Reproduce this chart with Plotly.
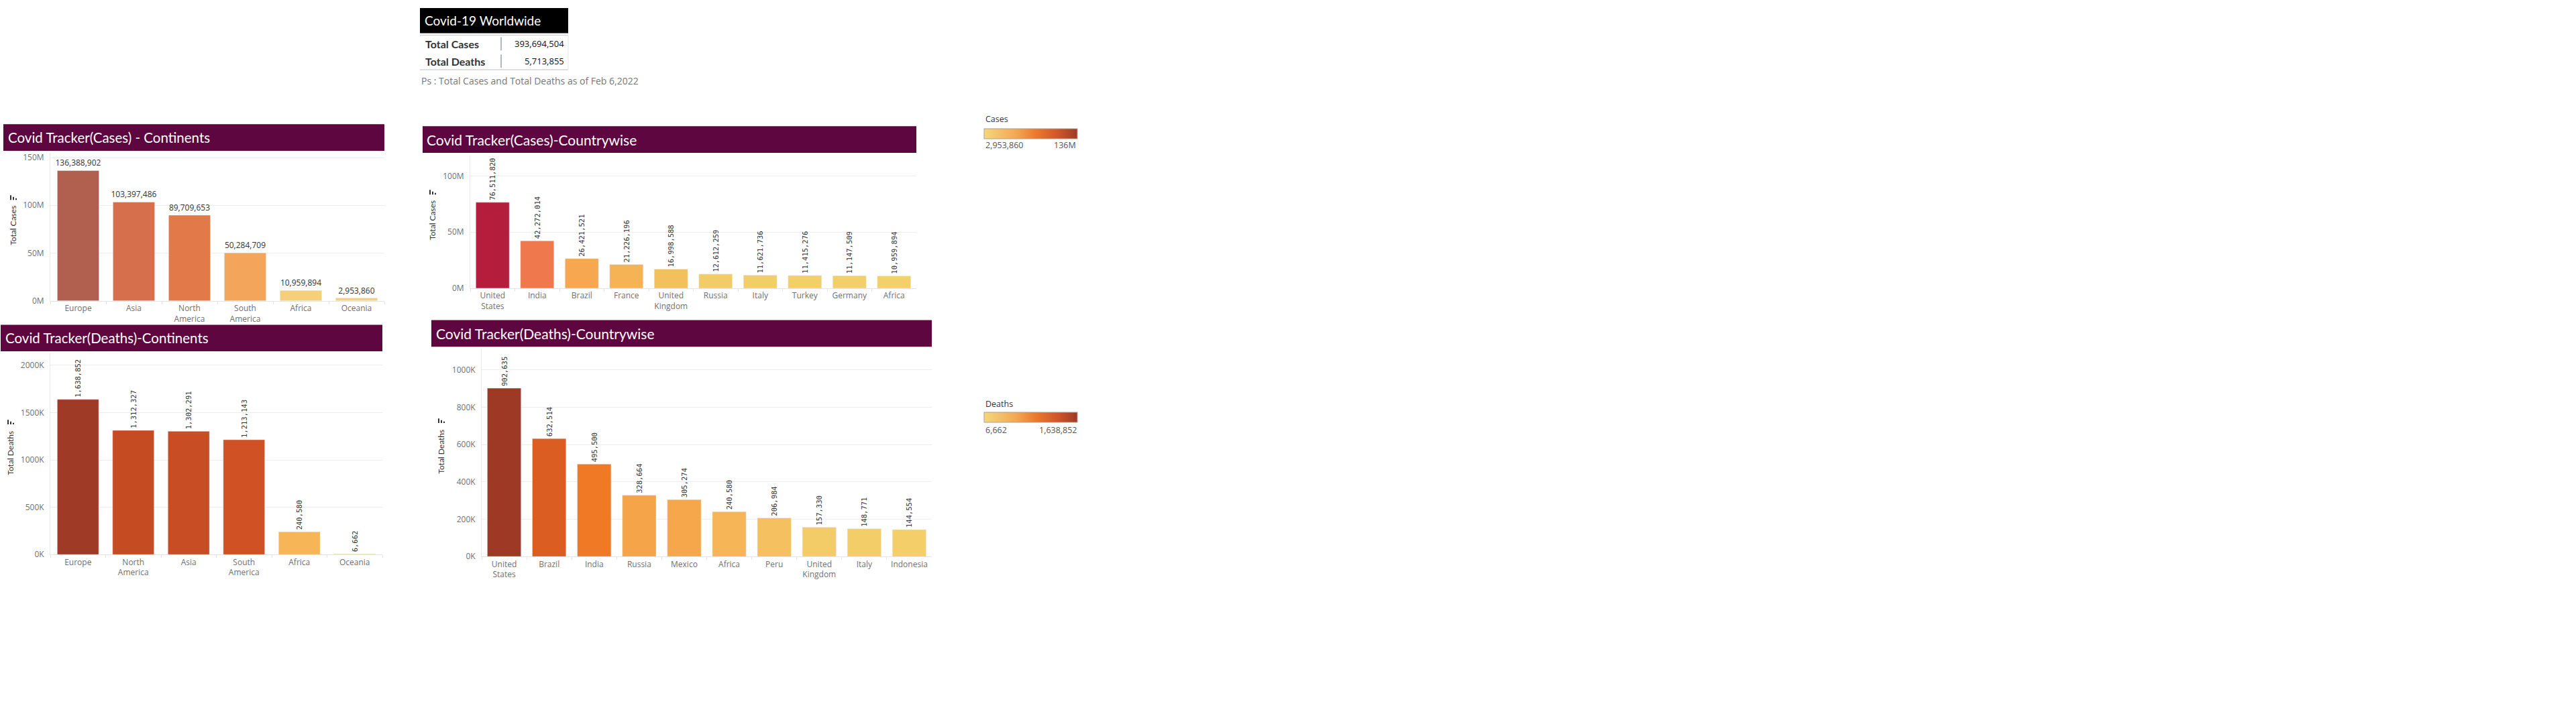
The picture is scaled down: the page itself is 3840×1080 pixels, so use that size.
import plotly.graph_objects as go

W, H = 3840, 1080

# ---------------- data ----------------
total_cases = 393694504
total_deaths = 5713855
note_text = "Ps : Total Cases and Total Deaths as of Feb 6,2022"

cont_cases_names = ["Europe", "Asia", "North America", "South America", "Africa", "Oceania"]
cont_cases_vals = [136388902, 103397486, 89709653, 50284709, 10959894, 2953860]

country_cases_names = ["United States", "India", "Brazil", "France", "United Kingdom",
                       "Russia", "Italy", "Turkey", "Germany", "Africa"]
country_cases_vals = [76511820, 42272014, 26421521, 21226196, 16998588,
                      12612259, 11621736, 11415276, 11147509, 10959894]

cont_deaths_names = ["Europe", "North America", "Asia", "South America", "Africa", "Oceania"]
cont_deaths_vals = [1638852, 1312327, 1302291, 1213143, 240580, 6662]

country_deaths_names = ["United States", "Brazil", "India", "Russia", "Mexico",
                        "Africa", "Peru", "United Kingdom", "Italy", "Indonesia"]
country_deaths_vals = [902635, 632514, 495500, 328664, 305274,
                       240580, 206984, 157330, 148771, 144554]

cases_ticks = [0, 50e6, 100e6, 150e6]
cases_ticklabels = ["0M", "50M", "100M", "150M"]
country_cases_ticks = [0, 50e6, 100e6]
country_cases_ticklabels = ["0M", "50M", "100M"]
deaths_ticks = [0, 500e3, 1000e3, 1500e3, 2000e3]
deaths_ticklabels = ["0K", "500K", "1000K", "1500K", "2000K"]
country_deaths_ticks = [0, 200e3, 400e3, 600e3, 800e3, 1000e3]
country_deaths_ticklabels = ["0K", "200K", "400K", "600K", "800K", "1000K"]

legend_cases_labels = ["2,953,860", "136M"]
legend_deaths_labels = ["6,662", "1,638,852"]

# ---------------- styles ----------------
c_cont_cases = ["#b1604f", "#d6704c", "#e17a48", "#f4a55c", "#f6cf7b", "#f5d17c"]
c_country_cases = ["#b41e3c", "#ef794c", "#f6a74f", "#f5b356", "#f4bf5d",
                   "#f2cc66", "#f2ce67", "#f3cf68", "#f3cf69", "#f3d06a"]
c_cont_deaths = ["#9f3a26", "#c54b23", "#c84c24", "#cf5124", "#f6b658", "#f5ce6c"]
c_country_deaths = ["#9e3926", "#db5d22", "#ef7925", "#f5a44a", "#f6a74b",
                    "#f6b658", "#f5c05f", "#f3cc67", "#f3cd68", "#f3ce69"]
legend_scale = [[0, "#f4d77c"], [0.35, "#f3a652"], [0.55, "#ec7a2b"],
                [0.8, "#cf5429"], [1, "#9e3a27"]]

HEAD = "#5e0640"
BASE = "Lato"
TICK = "Open Sans"
MONO = "DejaVu Sans Mono"


def px(x):
    return x / W


def py(y):
    return 1 - y / H


def br(names):
    return [n.replace(" ", "<br>") for n in names]


fig = go.Figure()

# ---------------- bars ----------------
fig.add_trace(go.Bar(
    x=cont_cases_names, y=cont_cases_vals, marker_color=c_cont_cases,
    texttemplate="%{y:,.0f}", textposition="outside", textangle=0,
    constraintext="none", cliponaxis=False,
    textfont=dict(family=TICK, size=12, color="#333333"),
    xaxis="x", yaxis="y", hoverinfo="x+y"))

fig.add_trace(go.Bar(
    x=country_cases_names, y=country_cases_vals, marker_color=c_country_cases,
    texttemplate="%{y:,.0f}", textposition="outside", textangle=-90,
    constraintext="none", cliponaxis=False,
    textfont=dict(family=MONO, size=10.5, color="#333333"),
    xaxis="x2", yaxis="y2", hoverinfo="x+y"))

fig.add_trace(go.Bar(
    x=cont_deaths_names, y=cont_deaths_vals, marker_color=c_cont_deaths,
    texttemplate="%{y:,.0f}", textposition="outside", textangle=-90,
    constraintext="none", cliponaxis=False,
    textfont=dict(family=MONO, size=10.5, color="#333333"),
    xaxis="x3", yaxis="y3", hoverinfo="x+y"))

fig.add_trace(go.Bar(
    x=country_deaths_names, y=country_deaths_vals, marker_color=c_country_deaths,
    texttemplate="%{y:,.0f}", textposition="outside", textangle=-90,
    constraintext="none", cliponaxis=False,
    textfont=dict(family=MONO, size=10.5, color="#333333"),
    xaxis="x4", yaxis="y4", hoverinfo="x+y"))


# ---------------- colour legends (dummy traces carrying colorbars) ----------------
def legend_trace(vmin, vmax, ybar, xaxis, yaxis, xcat):
    return go.Scatter(
        x=[xcat], y=[0], mode="markers", xaxis=xaxis, yaxis=yaxis,
        hoverinfo="skip", showlegend=False,
        marker=dict(color=[vmin], cmin=vmin, cmax=vmax, colorscale=legend_scale,
                    opacity=0, size=1, showscale=True,
                    colorbar=dict(orientation="h", x=px(1467), xanchor="left",
                                  y=py(ybar), yanchor="top", lenmode="pixels",
                                  len=139, thicknessmode="pixels", thickness=15,
                                  outlinewidth=1, outlinecolor="#aaa296",
                                  showticklabels=False, ticks="", xpad=0, ypad=0)))


fig.add_trace(legend_trace(min(cont_cases_vals), max(cont_cases_vals), 192, "x", "y",
                           cont_cases_names[0]))
fig.add_trace(legend_trace(min(cont_deaths_vals), max(cont_deaths_vals), 619, "x3", "y3",
                           cont_deaths_names[0]))

# ---------------- axes ----------------
grid = "#ededed"
tickfont = dict(family=TICK, size=12, color="#707070")


def xax(x0, x1, anchor, names):
    return dict(domain=[px(x0), px(x1)], anchor=anchor, type="category",
                tickmode="array", tickvals=names, ticktext=br(names), tickangle=0,
                tickfont=tickfont, showline=True, linecolor="#e4e4e4", linewidth=1,
                ticks="outside", tickson="boundaries", ticklen=4, tickcolor="#e4e4e4",
                showgrid=False, fixedrange=True)


def yax(y0, y1, anchor, rmax, tv, tt):
    return dict(domain=[py(y1), py(y0)], anchor=anchor, range=[0, rmax],
                tickmode="array", tickvals=tv, ticktext=tt, tickfont=tickfont,
                showgrid=True, gridcolor=grid, gridwidth=1, zeroline=False,
                showline=True, linecolor="#e9e9e9", ticks="", ticklabelstandoff=6,
                fixedrange=True)


fig.update_layout(
    xaxis=xax(75, 573, "y", cont_cases_names),
    yaxis=yax(228, 451, "x", 155e6, cases_ticks, cases_ticklabels),
    xaxis2=xax(701, 1366, "y2", country_cases_names),
    yaxis2=yax(232, 432, "x2", 118.3e6, country_cases_ticks, country_cases_ticklabels),
    xaxis3=xax(75, 570, "y3", cont_deaths_names),
    yaxis3=yax(530, 833, "x3", 2125e3, deaths_ticks, deaths_ticklabels),
    xaxis4=xax(718, 1389, "y4", country_deaths_names),
    yaxis4=yax(523, 836, "x4", 1114e3, country_deaths_ticks, country_deaths_ticklabels),
)

# ---------------- shapes & annotations ----------------
shapes = []
ann = []


def rect(x0, y0, x1, y1, color):
    shapes.append(dict(type="rect", xref="paper", yref="paper", x0=px(x0), x1=px(x1),
                       y0=py(y1), y1=py(y0), fillcolor=color, layer="above",
                       line=dict(width=0)))


def line(x0, y0, x1, y1, color, width=1):
    shapes.append(dict(type="line", xref="paper", yref="paper", x0=px(x0), x1=px(x1),
                       y0=py(y0), y1=py(y1), line=dict(color=color, width=width),
                       layer="above"))


def text(x, y, s, size, color, family=BASE, xanchor="left", yanchor="middle",
         angle=0, bold=False):
    ann.append(dict(x=px(x), y=py(y), xref="paper", yref="paper",
                    text=("<b>%s</b>" % s) if bold else s,
                    showarrow=False, xanchor=xanchor, yanchor=yanchor, textangle=angle,
                    font=dict(family=family, size=size, color=color)))


def sort_icon(xc, ybottom):
    # small bar-chart sort glyph above a y-axis title
    for dx, h in ((-4, 7), (0, 4.5), (4, 2.5)):
        rect(xc + dx - 1, ybottom - h, xc + dx + 1, ybottom, "#333333")


# headers
rect(5, 185, 573, 225, HEAD)
text(10, 205, "Covid Tracker(Cases) - Continents", 20.5, "white")
rect(630, 188, 1366, 228, HEAD)
text(634, 208, "Covid Tracker(Cases)-Countrywise", 21, "white")
rect(1, 487, 570, 527, HEAD)
text(6, 507, "Covid Tracker(Deaths)-Continents", 20.5, "white")
rect(643, 480, 1389, 520, HEAD)
text(648, 500, "Covid Tracker(Deaths)-Countrywise", 21, "white")

# axis titles + sort icons
text(20, 338, "Total Cases", 12, "#333333", angle=-90, xanchor="center")
sort_icon(20, 299)
text(645, 330, "Total Cases", 12, "#333333", angle=-90, xanchor="center")
sort_icon(645, 291)
text(16, 680, "Total Deaths", 12, "#333333", angle=-90, xanchor="center")
sort_icon(16, 637)
text(658, 678, "Total Deaths", 12, "#333333", angle=-90, xanchor="center")
sort_icon(658, 635)

# summary table
rect(626, 10, 847, 48, "#000000")
text(631, 29, "Covid-19 Worldwide", 19, "white")
line(626, 51, 847, 51, "#d4d4d4", 1.5)
line(626, 103, 847, 103, "#d4d4d4", 1.5)
line(847, 51, 847, 103, "#e6e6e6", 1)
line(747, 54, 747, 74, "#5b7091", 1)
line(747, 80, 747, 100, "#5b7091", 1)
text(632, 64, "Total Cases", 16, "#333333", bold=True)
text(632, 90, "Total Deaths", 16, "#333333", bold=True)
text(843, 64, "{:,}".format(total_cases), 13, "#111111", family=TICK, xanchor="right")
text(843, 90, "{:,}".format(total_deaths), 13, "#111111", family=TICK, xanchor="right")
text(626, 120, note_text, 14, "#777777", family=TICK)

# colour legend texts
text(1467, 177, "Cases", 12.5, "#333333", family=TICK)
text(1467, 217, legend_cases_labels[0], 12.5, "#555555", family=TICK)
text(1606, 217, legend_cases_labels[1], 12.5, "#555555", family=TICK, xanchor="right")
text(1467, 606, "Deaths", 12.5, "#333333", family=TICK)
text(1467, 645, legend_deaths_labels[0], 12.5, "#555555", family=TICK)
text(1608, 645, legend_deaths_labels[1], 12.5, "#555555", family=TICK, xanchor="right")

fig.update_layout(
    width=W, height=H, margin=dict(l=0, r=0, t=0, b=0),
    paper_bgcolor="white", plot_bgcolor="white", showlegend=False,
    bargap=0.25, shapes=shapes, annotations=ann,
    font=dict(family=BASE, size=12, color="#555555"),
)

fig.write_html("out.html",
               config={"displayModeBar": False},
               post_script="document.body.style.margin='0px';"
                           "document.body.style.overflow='hidden';")
